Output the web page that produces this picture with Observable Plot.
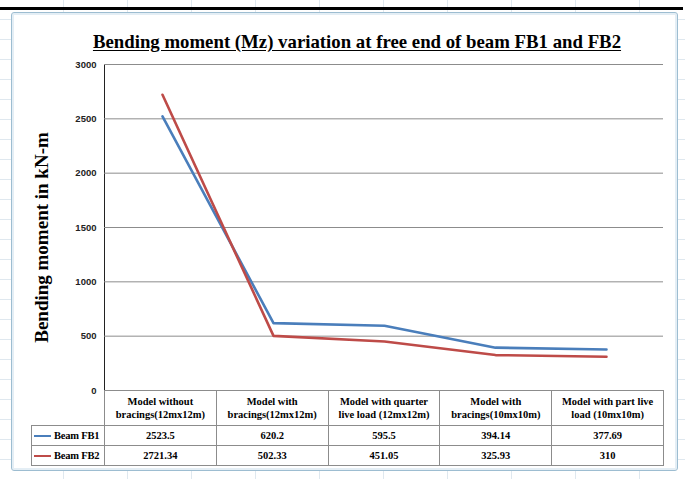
<!DOCTYPE html>
<html>
<head>
<meta charset="utf-8">
<script src="https://cdn.jsdelivr.net/npm/d3@7"></script>
<script src="https://cdn.jsdelivr.net/npm/@observablehq/plot@0.6"></script>
<style>
  html, body { margin: 0; padding: 0; background: #fff; }
  #page {
    position: relative; width: 685px; height: 479px; overflow: hidden;
    background-color: #fff;
    background-image:
      repeating-linear-gradient(to right, transparent 0 63px, #dfe8ef 63px 64px),
      repeating-linear-gradient(to bottom, transparent 0 19px, #dfe8ef 19px 20px);
  }
  #bar { position: absolute; left: 0; top: 7px; width: 683px; height: 3px; background: #000; }
  #frame {
    position: absolute; left: 11px; top: 12px; width: 665px; height: 457px;
    background: #fff; border: 1px solid #9dbdd1; border-radius: 3px;
    box-shadow: inset 0 0 0 2px #e4eef5;
  }
  #title {
    position: absolute; left: 0; width: 714px; top: 31px; text-align: center;
    font: bold 18.8px "Liberation Serif", "DejaVu Serif", serif; color: #000;
    text-decoration: underline; text-underline-offset: 2px;
  }
  #chart { position: absolute; left: 0; top: 0; }
  #table {
    position: absolute; left: 31px; top: 390px;
    border-collapse: collapse; table-layout: fixed;
    font: bold 10.5px "Liberation Serif", "DejaVu Serif", serif; color: #000;
  }
  #table td { border: 1px solid #8c8c8c; text-align: center; padding: 0; overflow: hidden; white-space: nowrap; }
  #table td.blank { border: none; border-right: 1px solid #8c8c8c; }
  #table tr.head td { height: 34px; line-height: 13px; white-space: normal; }
  #table tr.row td { height: 19px; }
  #table td.key { text-align: left; padding-left: 2px; letter-spacing: -0.2px; }
  .swatch { display: inline-block; width: 17px; height: 2px; vertical-align: middle; margin-right: 3px; margin-top: -2px; }
</style>
</head>
<body>
<div id="page">
  <div id="bar"></div>
  <div id="frame"></div>
  <div id="chart"></div>
  <div id="title"></div>
  <table id="table"></table>
</div>
<script>
const title = "Bending moment (Mz) variation at free end of beam FB1 and FB2";
const yLabel = "Bending moment in kN-m";
const categories = [
  "Model without bracings(12mx12m)",
  "Model with bracings(12mx12m)",
  "Model with quarter live load (12mx12m)",
  "Model with bracings(10mx10m)",
  "Model with part live load (10mx10m)"
];
const categoryLines = [
  ["Model without", "bracings(12mx12m)"],
  ["Model with", "bracings(12mx12m)"],
  ["Model with quarter", "live load (12mx12m)"],
  ["Model with", "bracings(10mx10m)"],
  ["Model with part live", "load (10mx10m)"]
];
const seriesNames = ["Beam FB1", "Beam FB2"];
const seriesColors = ["#4a7ebb", "#be4b48"];
const fb1 = [2523.5, 620.2, 595.5, 394.14, 377.69];
const fb2 = [2721.34, 502.33, 451.05, 325.93, 310];
const fb1Labels = ["2523.5", "620.2", "595.5", "394.14", "377.69"];
const fb2Labels = ["2721.34", "502.33", "451.05", "325.93", "310"];
const yTicks = [0, 500, 1000, 1500, 2000, 2500, 3000];

const data = [];
[fb1, fb2].forEach((vals, s) => vals.forEach((v, i) => data.push({series: seriesNames[s], cat: categories[i], value: v})));

document.getElementById("title").textContent = title;

const chart = Plot.plot({
  width: 685, height: 479,
  marginLeft: 104, marginRight: 22, marginTop: 64, marginBottom: 89,
  style: {background: "transparent", fontFamily: "Liberation Sans, Arial, sans-serif", fontSize: "9.5px", fontWeight: "bold", color: "#222"},
  x: {type: "point", domain: categories, padding: 0.5, axis: null},
  y: {domain: [0, 3000], ticks: yTicks, tickFormat: d => String(d), tickSize: 0, tickPadding: 8, label: null, line: true},
  color: {domain: seriesNames, range: seriesColors},
  marks: [
    Plot.gridY(yTicks, {stroke: "#8c8c8c", strokeOpacity: 1}),
    Plot.ruleY([0], {stroke: "#8c8c8c"}),
    Plot.line(data, {x: "cat", y: "value", z: "series", stroke: "series", strokeWidth: 2.6}),
    Plot.text([yLabel], {frameAnchor: "left", rotate: -90, dx: -63, dy: 10, fontSize: 19, fontWeight: "bold", fontFamily: "Liberation Serif, DejaVu Serif, serif", fill: "#000", textAnchor: "middle"})
  ]
});
document.getElementById("chart").appendChild(chart);

// data table
const table = document.getElementById("table");
const colW = (663 - 104) / categories.length;
const cg = document.createElement("colgroup");
const c0 = document.createElement("col"); c0.style.width = "73px"; cg.appendChild(c0);
categories.forEach(() => { const c = document.createElement("col"); c.style.width = colW + "px"; cg.appendChild(c); });
table.appendChild(cg);
table.style.width = (73 + colW * categories.length) + "px";
const head = document.createElement("tr"); head.className = "head";
const blank = document.createElement("td"); blank.className = "blank"; head.appendChild(blank);
categoryLines.forEach(lines => { const td = document.createElement("td"); td.innerHTML = lines.join("<br>"); head.appendChild(td); });
table.appendChild(head);
[fb1Labels, fb2Labels].forEach((labels, s) => {
  const tr = document.createElement("tr"); tr.className = "row";
  const key = document.createElement("td"); key.className = "key";
  key.innerHTML = `<span class="swatch" style="background:${seriesColors[s]}"></span>${seriesNames[s]}`;
  tr.appendChild(key);
  labels.forEach(l => { const td = document.createElement("td"); td.textContent = l; tr.appendChild(td); });
  table.appendChild(tr);
});
</script>
</body>
</html>
